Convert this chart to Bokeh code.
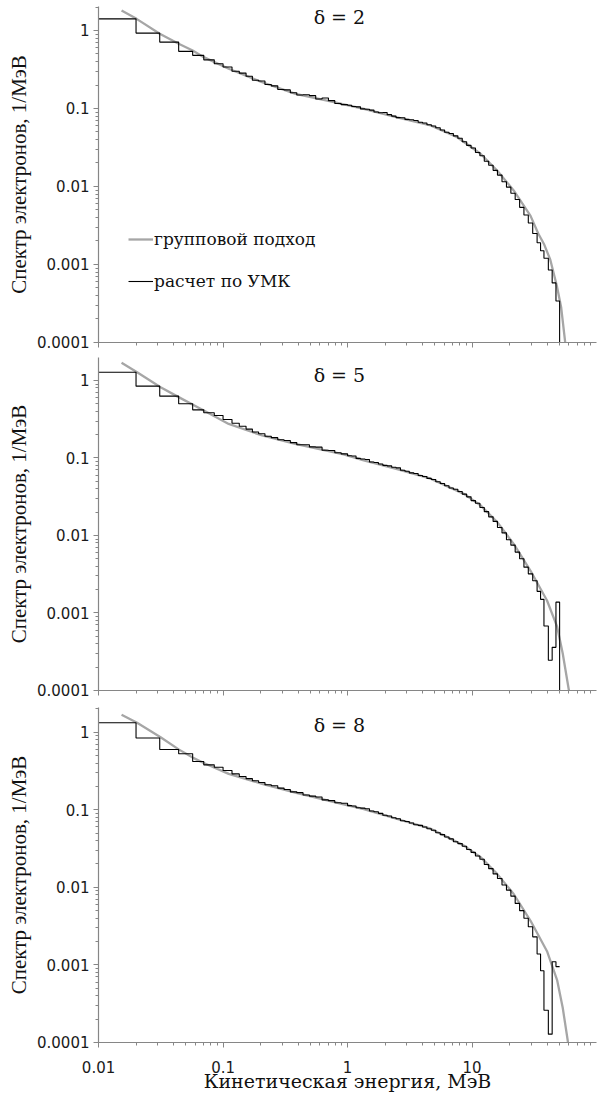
from bokeh.plotting import figure
from bokeh.models import Range1d, Label, Legend, LegendItem, PrintfTickFormatter, CustomJSTickFormatter
from bokeh.layouts import column
from bokeh.embed import file_html
from bokeh.resources import INLINE

# ---------------- data ----------------
# Monte-Carlo histogram bin edges, MeV
edges = [0.01, 0.02, 0.031, 0.044, 0.057, 0.07, 0.085, 0.1, 0.118, 0.135, 0.153, 0.172, 0.193,
         0.217, 0.244, 0.275, 0.309, 0.347, 0.391, 0.439, 0.494, 0.555, 0.624, 0.702, 0.79,
         0.888, 1.0, 1.08, 1.17, 1.27, 1.38, 1.5, 1.63, 1.77, 1.92, 2.08, 2.26, 2.45, 2.66,
         2.89, 3.13, 3.4, 3.69, 4.0, 4.34, 4.71, 5.11, 5.55, 6.02, 6.53, 7.08, 7.69, 8.34,
         9.05, 9.82, 10.65, 11.56, 12.54, 13.6, 14.76, 16.0, 17.4, 18.9, 20.5, 22.2, 24.1,
         26.1, 28.3, 30.7, 33.3, 35.5, 37.8, 41.0, 44.0, 47.2, 50.5, 54.6]

# "расчет по УМК" histogram values, 1/MeV
mc_d2 = [1.41, 0.925, 0.71, 0.54, 0.48, 0.42, 0.374, 0.34, 0.30, 0.284,
         0.259, 0.230, 0.225, 0.203, 0.195, 0.175, 0.173, 0.159, 0.149, 0.150,
         0.146, 0.132, 0.136, 0.126, 0.116, 0.112, 0.110, 0.106, 0.105, 0.0987,
         0.0976, 0.0953, 0.0902, 0.0882, 0.0887, 0.0833, 0.0798, 0.0764, 0.0762, 0.0724,
         0.0716, 0.0700, 0.0665, 0.0650, 0.0618, 0.0595, 0.0567, 0.0529, 0.0495, 0.0477,
         0.0446, 0.0416, 0.0375, 0.0336, 0.0312, 0.0273, 0.0248, 0.0211, 0.0187, 0.0161,
         0.0140, 0.0115, 0.0098, 0.0082, 0.0068, 0.0054, 0.0043, 0.0034, 0.0025, 0.0019,
         0.0015, 0.0012, 0.00085, 0.00058, 0.00034, 0.0001]
mc_d5 = [1.28, 0.845, 0.628, 0.50, 0.418, 0.383, 0.353, 0.314, 0.281, 0.257,
         0.236, 0.216, 0.205, 0.191, 0.183, 0.172, 0.168, 0.158, 0.148, 0.148,
         0.139, 0.138, 0.126, 0.125, 0.117, 0.113, 0.107, 0.106, 0.0987, 0.0969,
         0.0954, 0.0888, 0.0874, 0.0838, 0.0803, 0.0791, 0.0758, 0.0746, 0.0696, 0.0675,
         0.0643, 0.0630, 0.0595, 0.0577, 0.0545, 0.0527, 0.0493, 0.0469, 0.0438, 0.0410,
         0.0395, 0.0369, 0.0342, 0.0315, 0.0282, 0.0261, 0.0230, 0.0203, 0.0174, 0.0152,
         0.0127, 0.0108, 0.0088, 0.0075, 0.0061, 0.0050, 0.0039, 0.0032, 0.0026, 0.0019,
         0.0015, 0.00068, 0.000245, 0.00036, 0.00138, 0.0001]
mc_d8 = [1.32, 0.84, 0.598, 0.526, 0.419, 0.379, 0.353, 0.32, 0.29, 0.268,
         0.252, 0.236, 0.225, 0.210, 0.204, 0.190, 0.182, 0.170, 0.166, 0.155,
         0.150, 0.146, 0.134, 0.131, 0.123, 0.121, 0.113, 0.112, 0.106, 0.105,
         0.103, 0.0962, 0.0942, 0.0899, 0.0848, 0.0829, 0.0790, 0.0767, 0.0722, 0.0707,
         0.0674, 0.0641, 0.0629, 0.0599, 0.0570, 0.0545, 0.0506, 0.0478, 0.0445, 0.0421,
         0.0387, 0.0366, 0.0339, 0.0307, 0.0282, 0.0253, 0.0230, 0.0197, 0.0174, 0.0149,
         0.0130, 0.0107, 0.0092, 0.0077, 0.0062, 0.0050, 0.0040, 0.0031, 0.0023, 0.00138,
         0.00084, 0.00026, 0.000128, 0.0011, 0.00095]

# "групповой подход" curves
grp_e_d2 = [0.0153, 0.0202, 0.031, 0.044, 0.057, 0.07, 0.111, 0.206, 0.382, 0.73, 1.35, 2.5,
            4.65, 7.6, 11.7, 15.9, 21.6, 29.5, 34.0, 38.0, 42.5, 48.0, 52.0, 56.0]
grp_d2 = [1.80, 1.41, 0.91, 0.675, 0.554, 0.455, 0.323, 0.217, 0.154, 0.123, 0.099, 0.077,
          0.0605, 0.0428, 0.0263, 0.016, 0.0089, 0.0042, 0.0025, 0.0018, 0.00115, 0.00053,
          0.00028, 0.0001]
grp_e_d5 = [0.0153, 0.0204, 0.0315, 0.044, 0.07, 0.111, 0.206, 0.38, 0.93, 1.35, 2.5, 4.65,
            8.6, 11.7, 15.9, 21.6, 29.5, 40.0, 48.3, 53.5, 60.0]
grp_d5 = [1.69, 1.28, 0.82, 0.61, 0.41, 0.275, 0.195, 0.152, 0.111, 0.093, 0.072, 0.054,
          0.0344, 0.0245, 0.0149, 0.0078, 0.0035, 0.00145, 0.00066, 0.0003, 0.0001]
grp_e_d8 = [0.0153, 0.0204, 0.0315, 0.044, 0.057, 0.07, 0.111, 0.206, 0.38, 0.93, 1.35, 2.5,
            4.65, 8.6, 11.7, 15.9, 21.6, 29.5, 40.0, 48.3, 53.5, 59.0]
grp_d8 = [1.68, 1.32, 0.86, 0.60, 0.47, 0.40, 0.29, 0.216, 0.166, 0.117, 0.102, 0.076,
          0.057, 0.0345, 0.0245, 0.0149, 0.0082, 0.0037, 0.0015, 0.00063, 0.00028, 0.0001]

titles = ["δ = 2", "δ = 5", "δ = 8"]
x_label = "Кинетическая энергия, МэВ"
y_label = "Спектр электронов, 1/МэВ"
legend_labels = ["групповой подход", "расчет по УМК"]

# ---------------- styling ----------------
AXIS_COL = "#868686"
GRAY = "#A6A6A6"
SERIF = "Liberation Serif"
WSERIF = "DejaVu Serif"
SANS = "DejaVu Sans"

panels = [
    dict(mc=mc_d2, ge=grp_e_d2, gv=grp_d2, title=titles[0], ymax=2.03, h=357, bt=6, bb=15, ty=1.47, last=False),
    dict(mc=mc_d5, ge=grp_e_d5, gv=grp_d5, title=titles[1], ymax=1.98, h=350, bt=0, bb=17, ty=1.19, last=False),
    dict(mc=mc_d8, ge=grp_e_d8, gv=grp_d8, title=titles[2], ymax=2.08, h=393, bt=0, bb=58, ty=1.22, last=True),
]

figs = []
for i, pd_ in enumerate(panels):
    p = figure(width=598, height=pd_["h"], x_axis_type="log", y_axis_type="log",
               x_range=Range1d(0.00999, 99.9), y_range=Range1d(0.0000999, pd_["ymax"]),
               output_backend="svg", toolbar_location=None,
               min_border_left=98, min_border_right=2, min_border_top=pd_["bt"],
               min_border_bottom=pd_["bb"])
    p.outline_line_color = None
    p.xgrid.visible = False
    p.ygrid.visible = False
    p.background_fill_color = "white"

    for ax in (p.xaxis[0], p.yaxis[0]):
        ax.axis_line_color = AXIS_COL
        ax.axis_line_width = 1.2
        ax.major_tick_line_color = AXIS_COL
        ax.minor_tick_line_color = AXIS_COL
        ax.major_tick_in = 0
        ax.major_tick_out = 5
        ax.minor_tick_in = 0
        ax.minor_tick_out = 3
        ax.major_label_text_font = SANS
        ax.major_label_text_font_size = "15px"
        ax.major_label_text_color = "#1a1a1a"

    yax = p.yaxis[0]
    yax.formatter = PrintfTickFormatter(format="%g")
    yax.major_label_standoff = 4
    yax.axis_label = y_label
    yax.axis_label_text_font = SERIF
    yax.axis_label_text_font_size = "21px"
    yax.axis_label_text_font_style = "normal"
    yax.axis_label_text_color = "#111111"
    yax.axis_label_standoff = 3

    xax = p.xaxis[0]
    if pd_["last"]:
        xax.formatter = PrintfTickFormatter(format="%g")
        xax.major_label_standoff = 13
        xax.axis_label = x_label
        xax.axis_label_text_font = WSERIF
        xax.axis_label_text_font_size = "19px"
        xax.axis_label_text_font_style = "normal"
        xax.axis_label_text_color = "#111111"
        xax.axis_label_standoff = -6
    else:
        xax.formatter = CustomJSTickFormatter(code="return ''")
        xax.major_label_text_font_size = "1px"
        xax.major_label_standoff = 0

    # group approach curve
    r_grp = p.line(pd_["ge"], pd_["gv"], line_color=GRAY, line_width=2.3)
    # Monte-Carlo histogram
    n = len(pd_["mc"])
    xs = edges[:n + 1]
    ys = list(pd_["mc"]) + [pd_["mc"][-1]]
    r_mc = p.step(xs, ys, mode="after", line_color="black", line_width=1.1)

    p.add_layout(Label(x=0.86, y=pd_["ty"], text=pd_["title"], text_align="center",
                       text_baseline="middle", text_font=WSERIF, text_font_size="19px",
                       text_color="#111111"))

    if i == 0:
        leg = Legend(items=[LegendItem(label=legend_labels[0], renderers=[r_grp]),
                            LegendItem(label=legend_labels[1], renderers=[r_mc])],
                     location=(30, 51), orientation="vertical",
                     glyph_width=25, glyph_height=20, label_height=20,
                     label_standoff=1, spacing=22, padding=0, margin=0,
                     label_text_font=WSERIF, label_text_font_size="17px",
                     label_text_color="#111111",
                     background_fill_alpha=0, border_line_color=None)
        p.add_layout(leg)
    figs.append(p)

layout = column(*figs, spacing=0)
open("out.html", "w").write(file_html(layout, INLINE))
